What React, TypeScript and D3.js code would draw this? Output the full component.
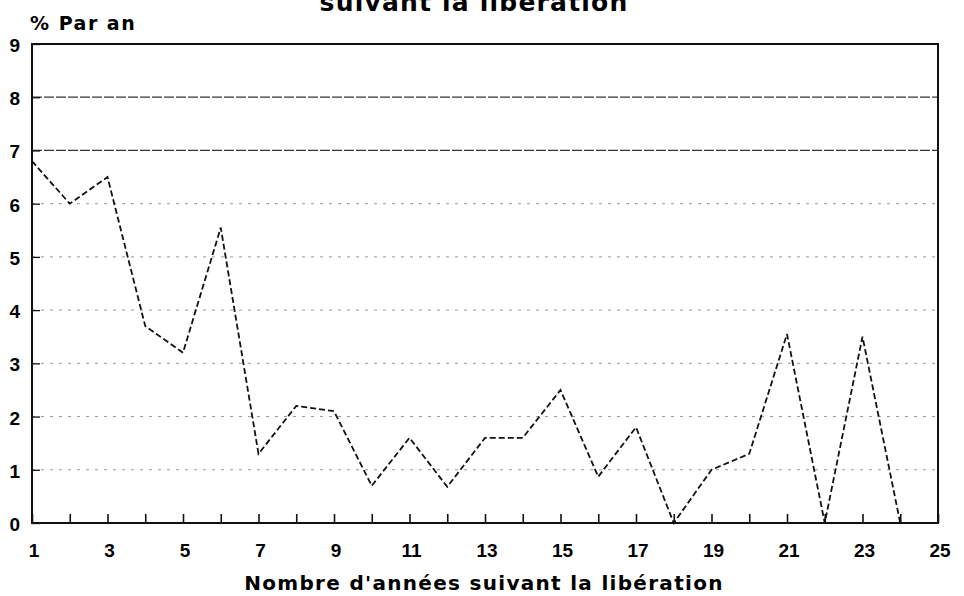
import React, { useEffect, useRef } from 'react';
import * as d3 from 'd3';

// années suivant la libération
const years = [1, 2, 3, 4, 5, 6, 7, 8, 9, 10, 11, 12, 13, 14, 15, 16, 17, 18, 19, 20, 21, 22, 23, 24];
// % par an
const rates = [6.8, 6.0, 6.5, 3.7, 3.2, 5.55, 1.3, 2.2, 2.1, 0.7, 1.6, 0.68, 1.6, 1.6, 2.5, 0.87, 1.8, 0, 1.0, 1.3, 3.55, 0, 3.5, 0];
const xTickLabels = [1, 3, 5, 7, 9, 11, 13, 15, 17, 19, 21, 23, 25];
const yTickLabels = [0, 1, 2, 3, 4, 5, 6, 7, 8, 9];

const titleText = 'suivant la libération';
const yAxisTitle = '% Par an';
const xAxisTitle = "Nombre d'années suivant la libération";

export default function App() {
  const ref = useRef<SVGSVGElement | null>(null);

  useEffect(() => {
    const width = 964;
    const height = 596;
    const margin = { top: 44, right: 26, bottom: 73, left: 32 };
    const font = '"DejaVu Sans", Verdana, sans-serif';
    const tickFont = '"Liberation Sans", Arial, sans-serif';

    const svg = d3.select(ref.current);
    svg.selectAll('*').remove();

    const x = d3.scaleLinear().domain([1, 25]).range([margin.left, width - margin.right]);
    const y = d3.scaleLinear().domain([0, 9]).range([height - margin.bottom, margin.top]);

    svg.append('rect').attr('width', width).attr('height', height).attr('fill', '#fff');

    // title (only its last line shows at the top)
    svg
      .append('text')
      .attr('x', 474)
      .attr('y', 11)
      .attr('text-anchor', 'middle')
      .style('font-family', font)
      .style('font-weight', 'bold')
      .style('font-size', '25px')
      .style('letter-spacing', '1.2px')
      .text(titleText);

    // horizontal grid
    svg
      .append('g')
      .selectAll('line')
      .data(yTickLabels.filter((d) => d > 0 && d < 9))
      .join('line')
      .attr('x1', x(1))
      .attr('x2', x(25))
      .attr('y1', (d) => y(d))
      .attr('y2', (d) => y(d))
      .attr('stroke', (d) => (d >= 7 ? '#333' : '#999'))
      .attr('stroke-width', (d) => (d >= 7 ? 1.3 : 1))
      .attr('stroke-dasharray', (d) => (d >= 7 ? '10 2' : '3 6'));

    // frame
    svg
      .append('rect')
      .attr('x', x(1))
      .attr('y', y(9))
      .attr('width', x(25) - x(1))
      .attr('height', y(0) - y(9))
      .attr('fill', 'none')
      .attr('stroke', '#111')
      .attr('stroke-width', 2);

    // x axis: ticks inside at every year
    const xAxis = svg
      .append('g')
      .attr('transform', `translate(0,${y(0)})`)
      .call(
        d3
          .axisTop(x)
          .tickValues(d3.range(1, 26))
          .tickSize(9)
          .tickFormat(() => '')
      );
    xAxis.select('.domain').remove();
    xAxis.selectAll('line').attr('stroke', '#111').attr('stroke-width', 1.6);

    svg
      .append('g')
      .selectAll('text')
      .data(xTickLabels)
      .join('text')
      .attr('x', (d) => x(d) + 2)
      .attr('y', y(0) + 34)
      .attr('text-anchor', 'middle')
      .style('font-family', tickFont)
      .style('font-weight', 'bold')
      .style('font-size', '19px')
      .text((d) => d);

    // y axis: small ticks inside
    const yAxis = svg
      .append('g')
      .attr('transform', `translate(${x(1)},0)`)
      .call(
        d3
          .axisRight(y)
          .tickValues(yTickLabels)
          .tickSize(8)
          .tickFormat(() => '')
      );
    yAxis.select('.domain').remove();
    yAxis.selectAll('line').attr('stroke', '#111').attr('stroke-width', 1.3);

    svg
      .append('g')
      .selectAll('text')
      .data(yTickLabels)
      .join('text')
      .attr('x', 20)
      .attr('y', (d) => y(d) + 8)
      .attr('text-anchor', 'end')
      .style('font-family', tickFont)
      .style('font-weight', 'bold')
      .style('font-size', '19px')
      .text((d) => d);

    svg
      .append('text')
      .attr('x', 30)
      .attr('y', 30)
      .style('font-family', font)
      .style('font-weight', 'bold')
      .style('font-size', '19px')
      .style('letter-spacing', '1.5px')
      .text(yAxisTitle);

    svg
      .append('text')
      .attr('x', 484)
      .attr('y', 590)
      .attr('text-anchor', 'middle')
      .style('font-family', font)
      .style('font-weight', 'bold')
      .style('font-size', '20px')
      .style('letter-spacing', '1.3px')
      .text(xAxisTitle);

    // series
    const line = d3
      .line<number>()
      .x((d, i) => x(years[i]))
      .y((d) => y(d));

    svg
      .append('path')
      .datum(rates)
      .attr('fill', 'none')
      .attr('stroke', '#111')
      .attr('stroke-width', 1.8)
      .attr('stroke-dasharray', '6 3')
      .attr('d', line);
  }, []);

  return (
    <svg
      ref={ref}
      width={964}
      height={596}
      style={{ position: 'absolute', left: 0, top: 0, display: 'block' }}
    />
  );
}
